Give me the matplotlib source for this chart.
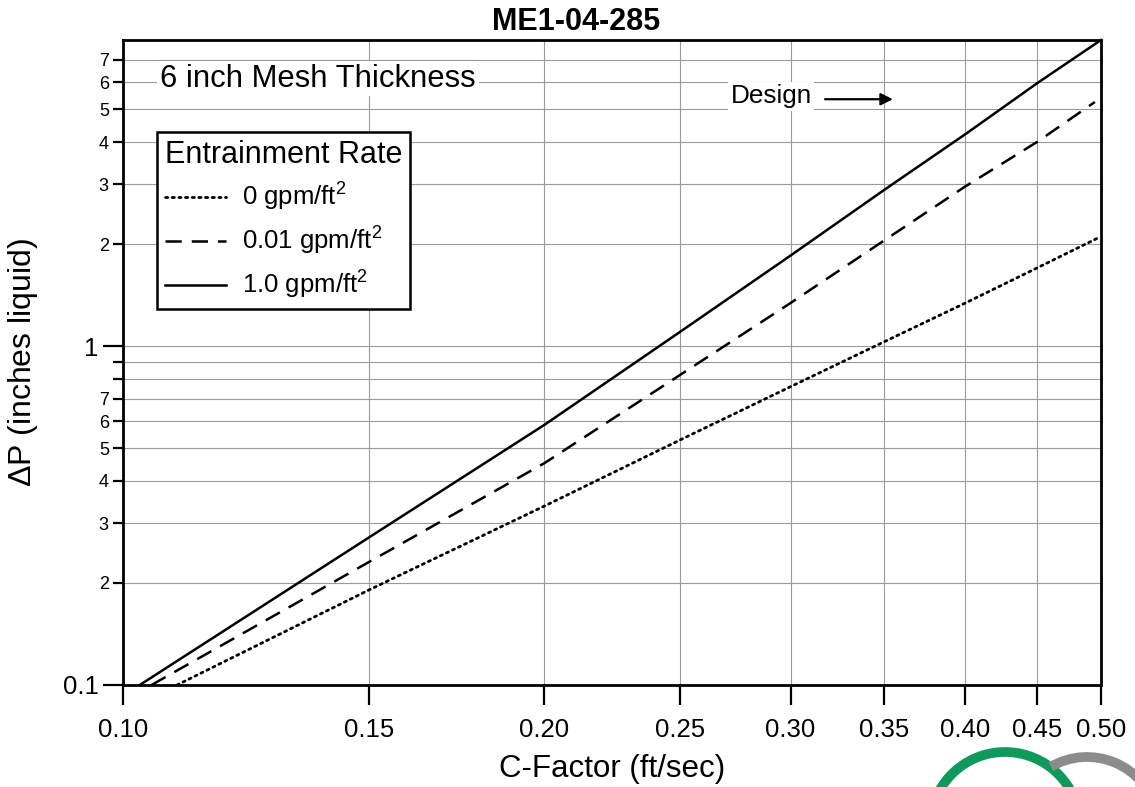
"""Mesh pad pressure drop vs C-factor (ME1-04-285), log-log chart."""

import matplotlib

matplotlib.use("Agg")
import matplotlib.pyplot as plt
from matplotlib.patches import Arc
from matplotlib.ticker import FixedLocator, NullLocator, NullFormatter

plt.rcParams["font.family"] = ["Liberation Sans", "DejaVu Sans"]
plt.rcParams["mathtext.fontset"] = "custom"
plt.rcParams["mathtext.rm"] = "Liberation Sans"
plt.rcParams["mathtext.it"] = "Liberation Sans"

# Values (C-factor ft/sec, dP inches liquid)
C_DRY = [0.1093, 0.15, 0.20, 0.25, 0.30, 0.35, 0.40, 0.45, 0.497]
DP_DRY = [0.10, 0.191, 0.337, 0.528, 0.759, 1.03, 1.34, 1.70, 2.08]

C_LOW = [0.1048, 0.15, 0.20, 0.25, 0.30, 0.35, 0.40, 0.45, 0.495]
DP_LOW = [0.10, 0.231, 0.451, 0.821, 1.34, 2.05, 2.96, 4.00, 5.25]

C_HIGH = [0.1028, 0.15, 0.20, 0.25, 0.30, 0.35, 0.40, 0.45, 0.50]
DP_HIGH = [0.10, 0.273, 0.585, 1.10, 1.85, 2.89, 4.22, 5.96, 8.0]

SERIES_LABELS = ["0 gpm/ft$^{\\mathregular{2}}$", "0.01 gpm/ft$^{\\mathregular{2}}$",
                 "1.0 gpm/ft$^{\\mathregular{2}}$"]

X_TICKS = [0.10, 0.15, 0.20, 0.25, 0.30, 0.35, 0.40, 0.45, 0.50]
Y_MAJOR = [0.1, 1.0]
Y_MINOR = [0.2, 0.3, 0.4, 0.5, 0.6, 0.7, 0.8, 0.9, 2, 3, 4, 5, 6, 7]
Y_MINOR_LABELS = ["2", "3", "4", "5", "6", "7", "", "", "2", "3", "4", "5", "6", "7"]

fig = plt.figure(figsize=(11.35, 7.87), dpi=100)
ax = fig.add_axes([123 / 1135, 1 - 685 / 787, (1101 - 123) / 1135, (685 - 40) / 787])
ax.set_xscale("log")
ax.set_yscale("log")
ax.set_xlim(0.10, 0.50)
ax.set_ylim(0.1, 8.0)

lw = 1.8
ax.plot(C_DRY, DP_DRY, color="black", lw=2.0, linestyle=(0, (0.8, 1.6)),
        dash_capstyle="round", label=SERIES_LABELS[0])
ax.plot(C_LOW, DP_LOW, color="black", lw=lw, linestyle=(0, (6.5, 4.0)),
        label=SERIES_LABELS[1])
ax.plot(C_HIGH, DP_HIGH, color="black", lw=lw, label=SERIES_LABELS[2],
        clip_on=False)

# ── ticks / grid ────────────────────────────────────────────────
ax.xaxis.set_major_locator(FixedLocator(X_TICKS))
ax.xaxis.set_minor_locator(NullLocator())
ax.set_xticklabels([f"{v:.2f}" for v in X_TICKS])
ax.yaxis.set_major_locator(FixedLocator(Y_MAJOR))
ax.set_yticklabels(["0.1", "1"])
ax.yaxis.set_minor_formatter(NullFormatter())
ax.set_yticks(Y_MINOR, minor=True)
ax.set_yticklabels(Y_MINOR_LABELS, minor=True)

ax.tick_params(axis="x", which="major", direction="out", length=14.5, width=1.6,
               labelsize=18.5, pad=9)
ax.tick_params(axis="y", which="major", direction="out", length=14.5, width=1.6,
               labelsize=18.5, pad=3)
ax.tick_params(axis="y", which="minor", direction="out", length=7.2, width=1.6,
               labelsize=13, pad=3)

ax.grid(True, which="both", axis="both", color="#9a9a9a", linewidth=0.8)
ax.set_axisbelow(True)
for side in ["left", "bottom", "top", "right"]:
    ax.spines[side].set_linewidth(2.0)

ax.set_xlabel("C-Factor (ft/sec)", fontsize=22.5, labelpad=9)
ax.set_ylabel("$\\Delta$P (inches liquid)", fontsize=23)
ax.yaxis.set_label_coords(-83 / 978, 0.5)
fig.text(576 / 1135, 1 - 22 / 787, "ME1-04-285", ha="center", va="center",
         fontsize=22, fontweight="bold")

# ── annotations ─────────────────────────────────────────────────
ax.text(0.1063, 6.15, "6 inch Mesh Thickness", fontsize=22.3, ha="left", va="center",
        bbox=dict(facecolor="white", edgecolor="none", pad=2))
ax.text(0.2905, 5.45, "Design", fontsize=18.8, ha="center", va="center",
        bbox=dict(facecolor="white", edgecolor="none", pad=1.5))
ax.annotate("", xy=(0.355, 5.35), xytext=(0.3175, 5.35),
            arrowprops=dict(arrowstyle="-|>", color="black", lw=1.6,
                            mutation_scale=18, shrinkA=0, shrinkB=0))

leg = ax.legend(loc="upper left", bbox_to_anchor=(34 / 978, 1 - 92 / 645),
                title="Entrainment Rate", title_fontsize=22, fontsize=18.5,
                frameon=True, fancybox=False, edgecolor="black", framealpha=1,
                handlelength=2.4, handletextpad=0.6, borderpad=0.3,
                labelspacing=0.45, borderaxespad=0)
leg.get_frame().set_linewidth(1.8)
leg._legend_box.align = "left"

# ── logo fragment, bottom right ─────────────────────────────────
for cx, cy, r, col, t1, t2 in [(1005, -40, 75, "#0f9a5c", 20, 170),
                               (1087, -42, 72, "#8c8c8c", 15, 120)]:
    arc = Arc((cx, cy), 2 * r, 2 * r, theta1=t1, theta2=t2, color=col, lw=7,
              transform=None)
    fig.add_artist(arc)

fig.savefig("out.png", dpi=100)
